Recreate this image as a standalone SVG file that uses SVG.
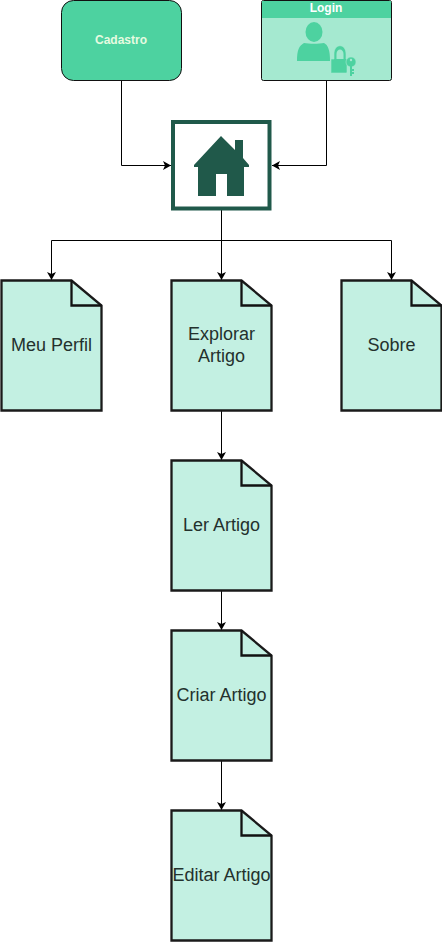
<svg xmlns="http://www.w3.org/2000/svg" width="442" height="942" viewBox="0 0 442 942">
<style>
.e{fill:none;stroke:#000;stroke-width:1}
.d{fill:#c3f0e2;stroke:#1a1a1a;stroke-width:2.300;stroke-linejoin:miter}
.f{fill:none;stroke:#111;stroke-width:2.300}
.t{font-family:"Liberation Sans",Arial,sans-serif;font-size:18px;fill:#24312d;text-anchor:middle}
.b{font-family:"Liberation Sans",Arial,sans-serif;font-size:12px;font-weight:bold;text-anchor:middle}
</style>
<defs>
<marker id="a" markerUnits="userSpaceOnUse" markerWidth="10" markerHeight="10" refX="8" refY="4.500" orient="auto"><path d="M0 0L8 4.500L0 9L2 4.500Z" fill="#000"/></marker>
<path id="doc" d="M0 0H70L100 25V130H0Z" class="d"/>
<path id="fold" d="M70 0V25H100" class="f"/>
</defs>
<g id="connectors">
<path class="e" marker-end="url(#a)" d="M121.500 80V165.500H171"/>
<path class="e" marker-end="url(#a)" d="M326.500 80V165.500H272"/>
<path class="e" marker-end="url(#a)" d="M221.500 210V240.500H51.500V280"/>
<path class="e" marker-end="url(#a)" d="M221.500 210V280"/>
<path class="e" marker-end="url(#a)" d="M221.500 240.500H391.500V280"/>
<path class="e" marker-end="url(#a)" d="M221.500 410V460"/>
<path class="e" marker-end="url(#a)" d="M221.500 590V630"/>
<path class="e" marker-end="url(#a)" d="M221.500 760V810"/>
</g>
<g id="cadastro">
<rect x="61.500" y="0.500" width="120" height="80" rx="12" fill="#4dd2a0" stroke="#111"/>
<text class="b" x="121" y="44" fill="#e6fbe0">Cadastro</text>
</g>
<g id="login">
<rect x="261.500" y="0.500" width="130" height="80" rx="2" fill="#a5e9d0" stroke="#111"/>
<path d="M262 1H391V18H262Z" fill="#4dd2a0"/>
<text class="b" x="326" y="12" fill="#fff">Login</text>
<ellipse cx="314" cy="32" rx="8.500" ry="10" fill="#4dd2a0"/>
<path d="M297 61C297 50 299 46 304 43C309 44 319 44 324 43C328 45 330 50 330 61Z" fill="#4dd2a0"/>
<path d="M331 59H334V54C334 43 346 43 346 54V59H347V72C347 73 346 73 345 73H332C331 73 331 73 331 72Z" fill="#4dd2a0" stroke="#a5e9d0" stroke-width="0.600"/>
<path d="M336.500 59H343.500V54C343.500 48 336.500 48 336.500 54Z" fill="#a5e9d0"/>
<circle cx="351" cy="62" r="5" fill="#4dd2a0" stroke="#a5e9d0" stroke-width="0.600"/>
<path d="M350 65H352V69H354V71H352V72H354V74H352V76H350Z" fill="#4dd2a0"/>
<circle cx="351" cy="60" r="1.200" fill="#a5e9d0"/>
</g>
<g id="home">
<rect x="173" y="122" width="96.500" height="86.500" fill="#fff" stroke="#20594a" stroke-width="4"/>
<path d="M221 136L235 150V140H243V158L249 165V167H244V196H227V174H216V196H198V167H194V165Z" fill="#20594a"/>
</g>
<g id="meu-perfil"><use href="#doc" x="1.500" y="280.500"/><use href="#fold" x="1.500" y="280.500"/><text class="t" x="51.500" y="351">Meu Perfil</text></g>
<g id="explorar"><use href="#doc" x="171.500" y="280.500"/><use href="#fold" x="171.500" y="280.500"/><text class="t" x="221.500" y="340">Explorar</text><text class="t" x="221.500" y="362">Artigo</text></g>
<g id="sobre"><use href="#doc" x="341.500" y="280.500"/><use href="#fold" x="341.500" y="280.500"/><text class="t" x="391.500" y="351">Sobre</text></g>
<g id="ler"><use href="#doc" x="171.500" y="460.500"/><use href="#fold" x="171.500" y="460.500"/><text class="t" x="221.500" y="531">Ler Artigo</text></g>
<g id="criar"><use href="#doc" x="171.500" y="630.500"/><use href="#fold" x="171.500" y="630.500"/><text class="t" x="221.500" y="701">Criar Artigo</text></g>
<g id="editar"><use href="#doc" x="171.500" y="810.500"/><use href="#fold" x="171.500" y="810.500"/><text class="t" x="221.500" y="881">Editar Artigo</text></g>
</svg>
